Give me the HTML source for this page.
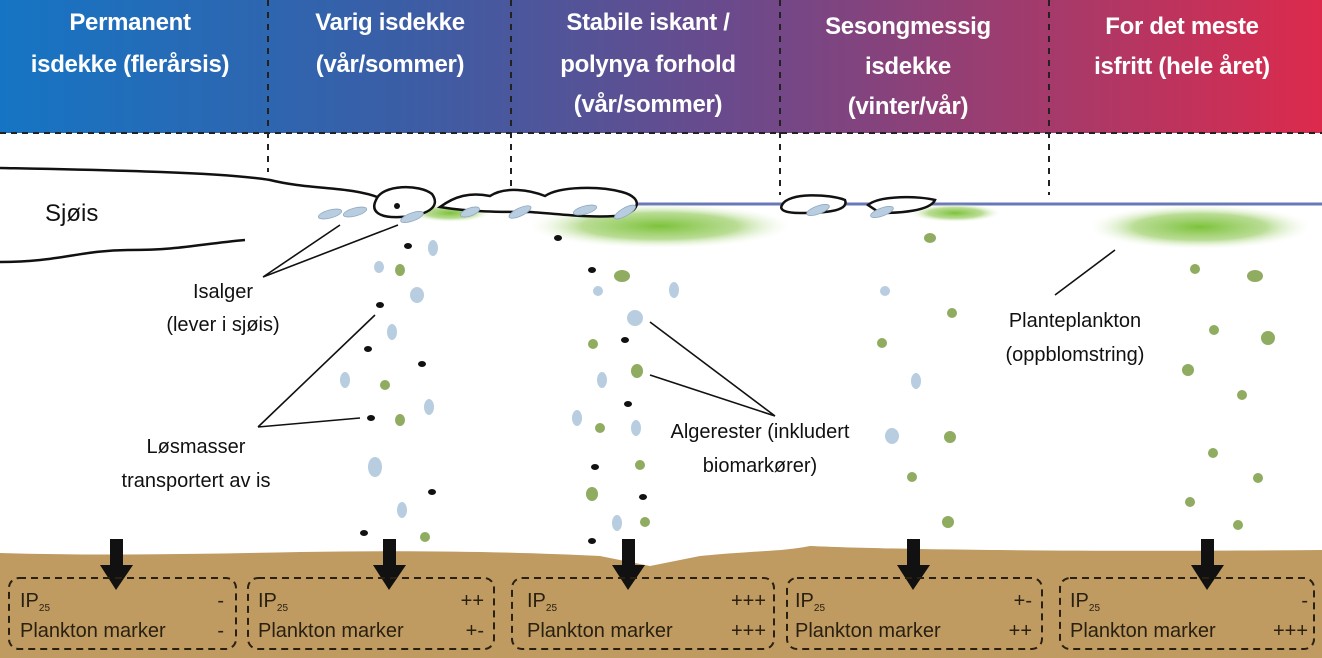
<!DOCTYPE html>
<html><head><meta charset="utf-8"><style>
html,body{margin:0;padding:0;background:#fff}
svg{display:block}
text{font-family:"Liberation Sans",sans-serif}
</style></head><body>
<svg width="1322" height="658" viewBox="0 0 1322 658">
<defs>
<linearGradient id="hg" x1="0" x2="1" y1="0" y2="0">
<stop offset="0" stop-color="#1575c4"/><stop offset="0.3" stop-color="#3a5ea6"/><stop offset="0.55" stop-color="#6a4a8c"/><stop offset="0.8" stop-color="#a63a6a"/><stop offset="1" stop-color="#dc2a4c"/>
</linearGradient>
<radialGradient id="gb"><stop offset="0" stop-color="#7cc23a"/><stop offset="0.6" stop-color="#a8d47a" stop-opacity="0.8"/><stop offset="1" stop-color="#e8f4dc" stop-opacity="0"/></radialGradient>
</defs>
<rect x="0" y="0" width="1322" height="133" fill="url(#hg)"/>
<line x1="0" y1="133" x2="1322" y2="133" stroke="#222" stroke-width="2" stroke-dasharray="6,5"/>
<g stroke="#222" stroke-width="2" stroke-dasharray="6,6">
<line x1="268" y1="0" x2="268" y2="172"/><line x1="511" y1="0" x2="511" y2="188"/><line x1="780" y1="0" x2="780" y2="195"/><line x1="1049" y1="0" x2="1049" y2="195"/>
</g>
<g fill="#fff" font-weight="bold" font-size="24" text-anchor="middle" letter-spacing="-0.3">
<text x="130" y="30">Permanent</text><text x="130" y="72">isdekke (flerårsis)</text>
<text x="390" y="30">Varig isdekke</text><text x="390" y="72">(vår/sommer)</text>
<text x="648" y="30">Stabile iskant /</text><text x="648" y="72">polynya forhold</text><text x="648" y="112">(vår/sommer)</text>
<text x="908" y="34">Sesongmessig</text><text x="908" y="74">isdekke</text><text x="908" y="114">(vinter/vår)</text>
<text x="1182" y="34">For det meste</text><text x="1182" y="74">isfritt (hele året)</text>
</g>
<line x1="620" y1="204" x2="1322" y2="204" stroke="#6a78b8" stroke-width="3"/>
<ellipse cx="450" cy="213" rx="40" ry="9" fill="url(#gb)"/>
<ellipse cx="660" cy="226" rx="130" ry="22" fill="url(#gb)"/>
<ellipse cx="955" cy="213" rx="45" ry="9" fill="url(#gb)"/>
<ellipse cx="1200" cy="227" rx="110" ry="22" fill="url(#gb)"/>
<path d="M0 168 C100 170 220 172 270 180 C310 190 350 186 380 198 M0 262 C60 262 80 250 130 250 C180 250 200 244 245 240" fill="none" stroke="#111" stroke-width="2.5"/>
<path d="M376 200 C382 184 420 184 432 194 C442 208 425 216 400 217 C380 218 370 212 376 200Z" fill="#fff" stroke="#111" stroke-width="2.5"/>
<path d="M440 207 C455 196 470 192 490 196 C505 186 530 190 545 196 C560 186 600 186 622 192 C645 198 640 214 615 216 C590 218 560 214 530 212 C500 212 470 212 440 207Z" fill="#fff" stroke="#111" stroke-width="2.5"/>
<path d="M782 205 C788 192 830 194 845 200 C850 212 820 213 800 213 C785 213 779 210 782 205Z" fill="#fff" stroke="#111" stroke-width="2.5"/>
<path d="M868 205 C880 195 920 196 935 200 C930 211 900 213 880 213Z" fill="#fff" stroke="#111" stroke-width="2.5"/>
<g fill="#b8cde0" stroke="#8fa8c0" stroke-width="0.8">
<ellipse cx="330" cy="214" rx="12" ry="4" transform="rotate(-15 330 214)"/><ellipse cx="355" cy="212" rx="12" ry="4" transform="rotate(-15 355 212)"/>
<ellipse cx="412" cy="217" rx="12" ry="4" transform="rotate(-20 412 217)"/><ellipse cx="470" cy="212" rx="10" ry="4" transform="rotate(-20 470 212)"/>
<ellipse cx="520" cy="212" rx="12" ry="4" transform="rotate(-25 520 212)"/><ellipse cx="585" cy="210" rx="12" ry="4" transform="rotate(-15 585 210)"/>
<ellipse cx="625" cy="212" rx="12" ry="4" transform="rotate(-30 625 212)"/><ellipse cx="818" cy="210" rx="12" ry="4" transform="rotate(-20 818 210)"/>
<ellipse cx="882" cy="212" rx="12" ry="4" transform="rotate(-20 882 212)"/>
</g>
<circle cx="397" cy="206" r="3" fill="#111"/>
<g fill="#111">
<ellipse cx="408" cy="246" rx="4" ry="3"/><ellipse cx="380" cy="305" rx="4" ry="3"/><ellipse cx="368" cy="349" rx="4" ry="3"/><ellipse cx="422" cy="364" rx="4" ry="3"/><ellipse cx="371" cy="418" rx="4" ry="3"/><ellipse cx="432" cy="492" rx="4" ry="3"/><ellipse cx="364" cy="533" rx="4" ry="3"/>
<ellipse cx="558" cy="238" rx="4" ry="3"/><ellipse cx="592" cy="270" rx="4" ry="3"/><ellipse cx="625" cy="340" rx="4" ry="3"/><ellipse cx="628" cy="404" rx="4" ry="3"/><ellipse cx="595" cy="467" rx="4" ry="3"/><ellipse cx="643" cy="497" rx="4" ry="3"/><ellipse cx="592" cy="541" rx="4" ry="3"/>
</g>
<g fill="#b8cde0">
<ellipse cx="433" cy="248" rx="5" ry="8"/><ellipse cx="379" cy="267" rx="5" ry="6"/><ellipse cx="417" cy="295" rx="7" ry="8"/><ellipse cx="392" cy="332" rx="5" ry="8"/><ellipse cx="345" cy="380" rx="5" ry="8"/><ellipse cx="429" cy="407" rx="5" ry="8"/><ellipse cx="375" cy="467" rx="7" ry="10"/><ellipse cx="402" cy="510" rx="5" ry="8"/>
<ellipse cx="598" cy="291" rx="5" ry="5"/><ellipse cx="674" cy="290" rx="5" ry="8"/><ellipse cx="635" cy="318" rx="8" ry="8"/><ellipse cx="602" cy="380" rx="5" ry="8"/><ellipse cx="577" cy="418" rx="5" ry="8"/><ellipse cx="636" cy="428" rx="5" ry="8"/><ellipse cx="617" cy="523" rx="5" ry="8"/>
<ellipse cx="885" cy="291" rx="5" ry="5"/><ellipse cx="916" cy="381" rx="5" ry="8"/><ellipse cx="892" cy="436" rx="7" ry="8"/>
</g>
<g fill="#8fac60">
<ellipse cx="400" cy="270" rx="5" ry="6"/><ellipse cx="385" cy="385" rx="5" ry="5"/><ellipse cx="400" cy="420" rx="5" ry="6"/><ellipse cx="425" cy="537" rx="5" ry="5"/>
<ellipse cx="622" cy="276" rx="8" ry="6"/><ellipse cx="593" cy="344" rx="5" ry="5"/><ellipse cx="637" cy="371" rx="6" ry="7"/><ellipse cx="600" cy="428" rx="5" ry="5"/><ellipse cx="640" cy="465" rx="5" ry="5"/><ellipse cx="592" cy="494" rx="6" ry="7"/><ellipse cx="645" cy="522" rx="5" ry="5"/>
<ellipse cx="930" cy="238" rx="6" ry="5"/><ellipse cx="952" cy="313" rx="5" ry="5"/><ellipse cx="882" cy="343" rx="5" ry="5"/><ellipse cx="950" cy="437" rx="6" ry="6"/><ellipse cx="912" cy="477" rx="5" ry="5"/><ellipse cx="948" cy="522" rx="6" ry="6"/>
<ellipse cx="1195" cy="269" rx="5" ry="5"/><ellipse cx="1255" cy="276" rx="8" ry="6"/><ellipse cx="1214" cy="330" rx="5" ry="5"/><ellipse cx="1268" cy="338" rx="7" ry="7"/><ellipse cx="1188" cy="370" rx="6" ry="6"/><ellipse cx="1242" cy="395" rx="5" ry="5"/><ellipse cx="1213" cy="453" rx="5" ry="5"/><ellipse cx="1258" cy="478" rx="5" ry="5"/><ellipse cx="1190" cy="502" rx="5" ry="5"/><ellipse cx="1238" cy="525" rx="5" ry="5"/>
</g>
<g stroke="#111" stroke-width="1.6" fill="none">
<path d="M263 277 L340 225 M263 277 L398 225"/>
<path d="M258 427 L375 315 M258 427 L360 418"/>
<path d="M775 416 L650 322 M775 416 L650 375"/>
<path d="M1055 295 L1115 250"/>
</g>
<g fill="#111">
<text x="45" y="221" font-size="24">Sjøis</text>
<text x="223" y="298" text-anchor="middle" font-size="20">Isalger</text>
<text x="223" y="331" text-anchor="middle" font-size="20">(lever i sjøis)</text>
<text x="196" y="453" text-anchor="middle" font-size="20">Løsmasser</text>
<text x="196" y="487" text-anchor="middle" font-size="20">transportert av is</text>
<text x="760" y="438" text-anchor="middle" font-size="20">Algerester (inkludert</text>
<text x="760" y="472" text-anchor="middle" font-size="20">biomarkører)</text>
<text x="1075" y="327" text-anchor="middle" font-size="20">Planteplankton</text>
<text x="1075" y="361" text-anchor="middle" font-size="20">(oppblomstring)</text>
</g>
<path d="M0 553 C100 556 200 554 300 552 C420 550 520 552 600 556 L650 566 L700 556 C760 550 780 552 810 546 C900 550 1100 552 1322 550 L1322 658 L0 658Z" fill="#bf9b62"/>
<g fill="#111">
<rect x="110" y="539" width="13" height="28"/><polygon points="100,565 133,565 116,590"/>
<rect x="383" y="539" width="13" height="28"/><polygon points="373,565 406,565 389,590"/>
<rect x="622" y="539" width="13" height="28"/><polygon points="612,565 645,565 628,590"/>
<rect x="907" y="539" width="13" height="28"/><polygon points="897,565 930,565 913,590"/>
<rect x="1201" y="539" width="13" height="28"/><polygon points="1191,565 1224,565 1207,590"/>
</g>
<g fill="none" stroke="#2a2010" stroke-width="2" stroke-dasharray="7,5">
<rect x="9" y="578" width="227" height="71" rx="10"/>
<rect x="248" y="578" width="246" height="71" rx="10"/>
<rect x="512" y="578" width="262" height="71" rx="10"/>
<rect x="787" y="578" width="255" height="71" rx="10"/>
<rect x="1060" y="578" width="254" height="71" rx="10"/>
</g>
<g font-size="20" fill="#2a2010">
<text x="20" y="607">IP<tspan font-size="10" dy="4">25</tspan></text><text x="20" y="637">Plankton marker</text><text x="224" y="607" text-anchor="end">-</text><text x="224" y="637" text-anchor="end">-</text>
<text x="258" y="607">IP<tspan font-size="10" dy="4">25</tspan></text><text x="258" y="637">Plankton marker</text><text x="484" y="607" text-anchor="end">++</text><text x="484" y="637" text-anchor="end">+-</text>
<text x="527" y="607">IP<tspan font-size="10" dy="4">25</tspan></text><text x="527" y="637">Plankton marker</text><text x="766" y="607" text-anchor="end">+++</text><text x="766" y="637" text-anchor="end">+++</text>
<text x="795" y="607">IP<tspan font-size="10" dy="4">25</tspan></text><text x="795" y="637">Plankton marker</text><text x="1032" y="607" text-anchor="end">+-</text><text x="1032" y="637" text-anchor="end">++</text>
<text x="1070" y="607">IP<tspan font-size="10" dy="4">25</tspan></text><text x="1070" y="637">Plankton marker</text><text x="1308" y="607" text-anchor="end">-</text><text x="1308" y="637" text-anchor="end">+++</text>
</g>
</svg>
</body></html>
